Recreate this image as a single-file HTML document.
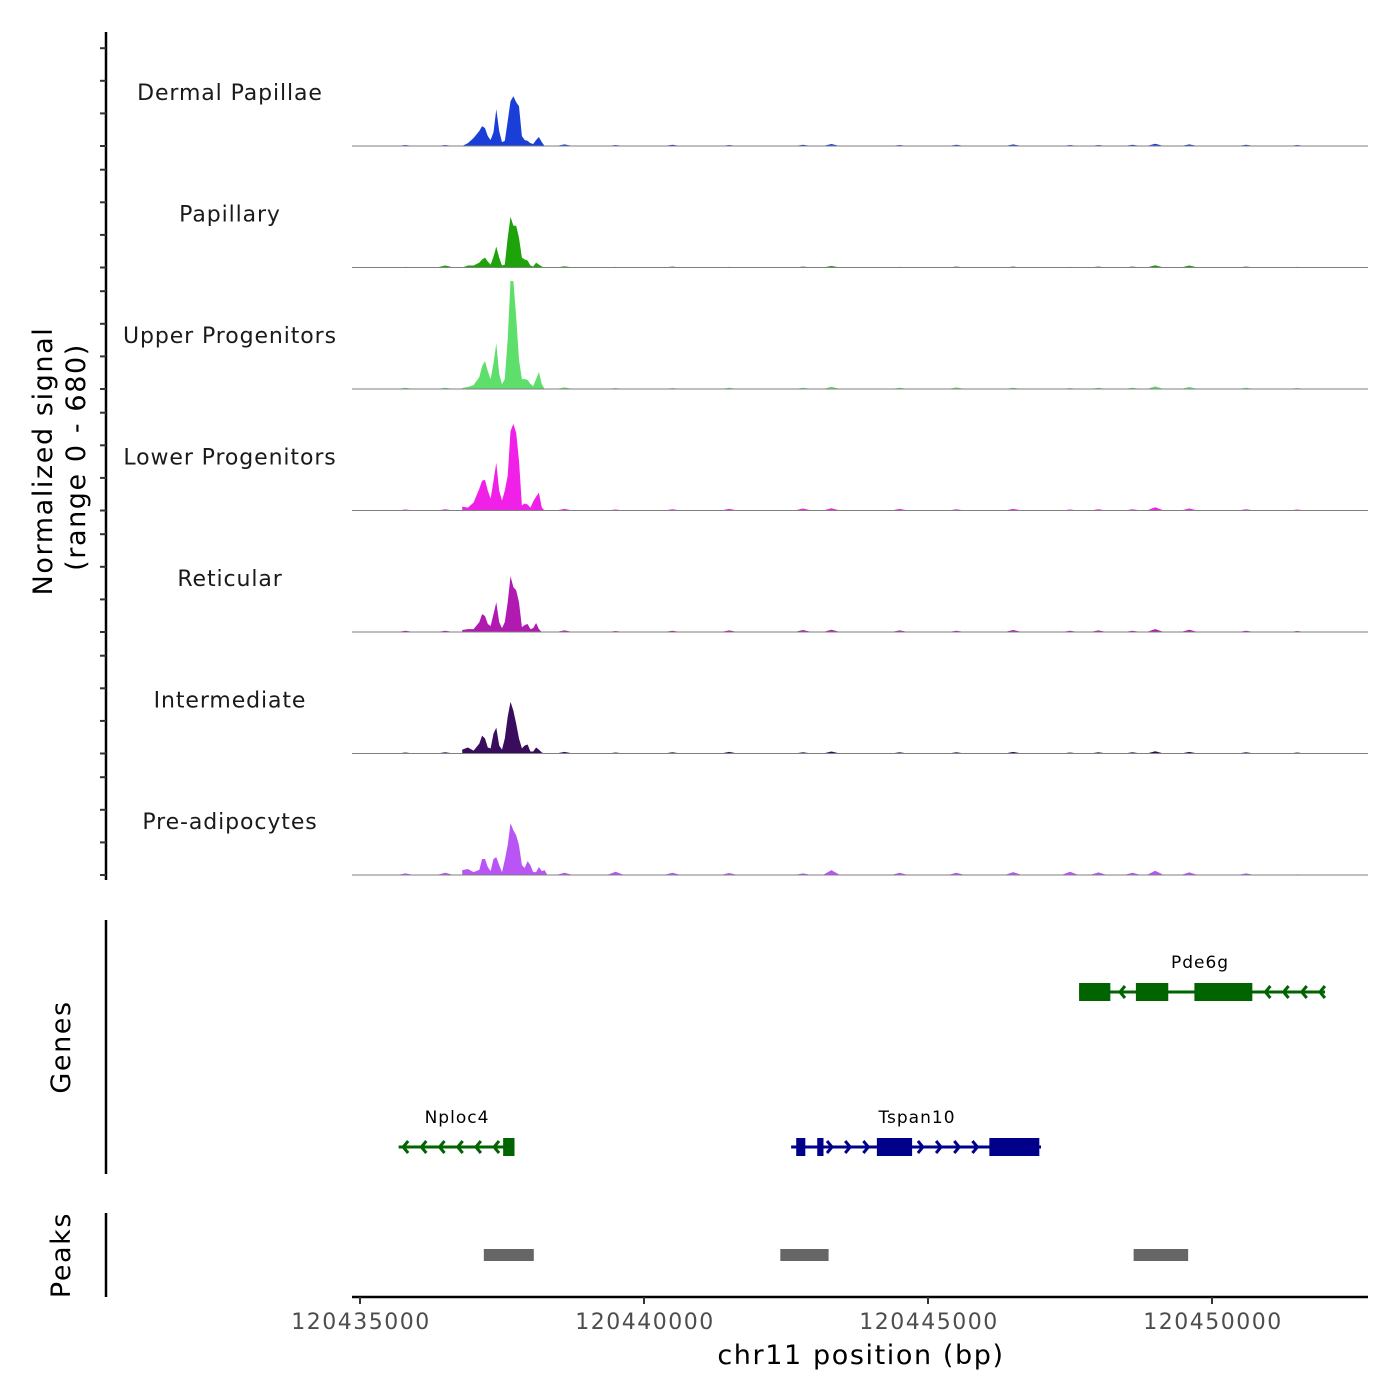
<!DOCTYPE html>
<html><head><meta charset="utf-8"><style>
html,body{margin:0;padding:0;background:#fff}
svg{display:block;font-family:"DejaVu Sans","Liberation Sans",sans-serif}
</style></head><body>
<svg id="chart" width="1400" height="1400" viewBox="0 0 1400 1400">
<g id="tracks"></g>
<g id="axes"></g>
<g id="genes"></g>
<g id="peaks"></g>
</svg>
<script>
// ---- data ----
const trackNames = ["Dermal Papillae","Papillary","Upper Progenitors","Lower Progenitors","Reticular","Intermediate","Pre-adipocytes"];
const trackColors = ["#1a3fd8","#1fa30a","#5ede6a","#f020e8","#b01ab0","#3a0c5e","#b955f5"];
const peakPos = [1800,1900,2000,2100,2150,2200,2250,2300,2350,2400,2450,2500,2550,2600,2650,2700,2750,2800,2850,2900,2950,3000,3050,3100,3150,3200,3250,3300];
const sigDermal = [0,18,49,92,122,110,61,37,85,226,92,24,31,153,275,305,268,244,61,37,31,18,12,37,55,24,0,0];
const sigPapillary = [0,12,12,30,49,61,37,18,67,128,61,12,18,183,311,256,256,183,61,49,43,12,6,30,18,6,0,0];
const sigUpper = [6,12,24,73,140,171,110,61,159,280,92,30,61,305,665,660,440,180,61,61,55,31,18,61,104,30,0,0];
const sigLower = [24,18,49,134,183,189,122,73,183,293,122,61,122,213,488,531,476,305,31,43,37,18,55,85,110,18,0,0];
const sigReticular = [12,18,18,61,110,98,49,37,110,183,61,24,61,183,342,275,256,183,30,43,49,18,24,55,18,0,0,0];
const sigIntermediate = [24,37,18,61,110,92,37,31,122,159,49,24,92,226,317,262,183,92,31,49,55,12,12,37,24,6,0,0];
const sigPreadip = [30,37,18,31,98,98,49,24,98,110,61,18,92,183,317,275,244,183,61,43,85,61,18,18,49,24,30,0];
const bgPos = [800,1500,3600,4500,5500,6500,7800,8300,9500,10500,11500,12500,13000,13600,14000,14600,15600,16500];
const bgDermal = [6,6,10,6,8,6,8,12,6,8,10,6,6,8,14,10,8,6];
const bgPapillary = [4,12,8,4,6,4,6,10,4,6,6,4,6,6,14,12,6,4];
const bgUpper = [8,8,10,6,6,8,8,14,8,10,8,6,8,8,16,12,8,6];
const bgLower = [6,8,10,6,8,10,12,14,10,8,10,6,8,8,20,12,8,6];
const bgReticular = [8,8,10,6,8,10,12,14,10,8,12,8,10,8,18,14,8,6];
const bgIntermediate = [6,8,10,6,8,10,8,12,8,8,10,6,8,8,14,10,8,6];
const bgPreadip = [10,14,14,20,14,12,10,30,14,14,18,20,16,14,26,16,10,4];
const signals = [sigDermal,sigPapillary,sigUpper,sigLower,sigReticular,sigIntermediate,sigPreadip];
const backgrounds = [bgDermal,bgPapillary,bgUpper,bgLower,bgReticular,bgIntermediate,bgPreadip];
const yTicks = [0,200,400,600];
const xTicks = [120435000,120440000,120445000,120450000];
const genesData = [
 {name:"Pde6g",strand:-1,start:12660,end:16990,row:0,color:"#006400",exons:[[12660,13210],[13660,14230],[14690,15710]]},
 {name:"Nploc4",strand:-1,start:680,end:2720,row:1,color:"#006400",exons:[[2520,2720]]},
 {name:"Tspan10",strand:1,start:7590,end:11990,row:1,color:"#00008b",exons:[[7680,7840],[8050,8160],[9100,9720],[11080,11960]]}
];
const peakRegions = [[2180,3060],[7400,8250],[13620,14580]];
// ---- scales ----
const X0=120435000, PXBP=0.0568, XL=360;
const xs = bp => XL + bp*PXBP;
const xAbs = v => XL + (v-X0)*PXBP;
const TRACK_H=121.5, BASE0=146, VSCALE=0.163;
const base = k => BASE0 + k*TRACK_H;
const ys = (k,v) => base(k) - v*VSCALE;
const NS="http://www.w3.org/2000/svg";
function mk(tag,attrs,parent,text){const e=document.createElementNS(NS,tag);for(const a in attrs)e.setAttribute(a,attrs[a]);if(text!==undefined)e.textContent=text;parent.appendChild(e);return e;}
const tracks=document.getElementById('tracks');
signals.forEach((sig,k)=>{
  const g=mk('g',{},tracks);
  
  
  const lab=mk('text',{x:230,y:base(k)-46,'text-anchor':'middle','font-size':22,'letter-spacing':0.9,fill:'#1a1a1a'},g,trackNames[k]);
  
  
  let d='M'+xs(peakPos[0])+','+base(k);
  sig.forEach((v,i)=>{d+=' L'+xs(peakPos[i]).toFixed(1)+','+ys(k,v).toFixed(1);});
  d+=' L'+xs(peakPos[peakPos.length-1])+','+base(k)+' Z';
  const p=mk('path',{d:d,fill:trackColors[k]},g);
  
  
  backgrounds[k].forEach((v,i)=>{
    const c=bgPos[i];
    const bd='M'+xs(c-150)+','+base(k)+' L'+xs(c)+','+ys(k,v)+' L'+xs(c+150)+','+base(k)+' Z';
    const b=mk('path',{d:bd,fill:trackColors[k]},g);
    
    
  });
  const bl=mk('line',{x1:352,x2:1368,y1:base(k),y2:base(k),stroke:'#7f7f7f','stroke-width':1},g);
  
  
});
const axes=document.getElementById('axes');
const ya=mk('line',{x1:106,x2:106,y1:32,y2:880,stroke:'#000','stroke-width':2.5},axes);


for(let k=0;k<7;k++){yTicks.forEach(t=>{
  const tl=mk('line',{x1:100,x2:106,y1:ys(k,t),y2:ys(k,t),stroke:'#333','stroke-width':2},axes);
  
  
});}
const yt=mk('text',{transform:'translate(52,461) rotate(-90)','text-anchor':'middle','font-size':27,'letter-spacing':1.6,fill:'#000'},axes,'Normalized signal');


const yt2=mk('text',{transform:'translate(85,457) rotate(-90)','text-anchor':'middle','font-size':27,'letter-spacing':1.6,fill:'#000'},axes,'(range 0 - 680)');


const ga=mk('line',{x1:106,x2:106,y1:920,y2:1174,stroke:'#000','stroke-width':2.5},axes);


const gt=mk('text',{transform:'translate(70,1047) rotate(-90)','text-anchor':'middle','font-size':27,'letter-spacing':1.6,fill:'#000'},axes,'Genes');


const pa=mk('line',{x1:106,x2:106,y1:1213,y2:1297,stroke:'#000','stroke-width':2.5},axes);


const pt=mk('text',{transform:'translate(70,1255) rotate(-90)','text-anchor':'middle','font-size':27,'letter-spacing':1.6,fill:'#000'},axes,'Peaks');


const xa=mk('line',{x1:352,x2:1368,y1:1297,y2:1297,stroke:'#000','stroke-width':2.5},axes);


xTicks.forEach(t=>{
  const tl=mk('line',{x1:xAbs(t),x2:xAbs(t),y1:1297,y2:1304,stroke:'#333','stroke-width':2},axes);
  
  
  const tx=mk('text',{x:xAbs(t)+1,y:1329,'text-anchor':'middle','font-size':22,'letter-spacing':1.5,fill:'#4d4d4d'},axes,String(t));
  
  
});
const xt=mk('text',{x:861,y:1364,'text-anchor':'middle','font-size':27,'letter-spacing':1.6,fill:'#000'},axes,'chr11 position (bp)');


// genes
const gg=document.getElementById('genes');
const rowY=[992,1147];
genesData.forEach(gd=>{
  const g=mk('g',{},gg);
  
  
  const y=rowY[gd.row];
  const x1=xs(gd.start), x2=xs(gd.end);
  mk('line',{x1:x1,x2:x2,y1:y,y2:y,stroke:gd.color,'stroke-width':3},g);
  gd.exons.forEach(e=>{
    const r=mk('rect',{x:xs(e[0]),y:y-9,width:xs(e[1])-xs(e[0]),height:18,fill:gd.color},g);
    
    
  });
  for(let bp=gd.start+80; bp<gd.end; bp+=320){
    const inEx=gd.exons.some(e=>bp>e[0]-120&&bp<e[1]+120);
    if(inEx) continue;
    const ax=xs(bp), s=gd.strand;
    mk('polyline',{points:(ax-5*s)+','+(y-6)+' '+ax+','+y+' '+(ax-5*s)+','+(y+6),fill:'none',stroke:gd.color,'stroke-width':3},g);
  }
  const lab=mk('text',{x:(x1+x2)/2,y:rowY[gd.row]-24,'text-anchor':'middle','font-size':17,'letter-spacing':1,fill:'#000'},g,gd.name);
  if(gd.name==='Pde6g') lab.setAttribute('x',1200);
  if(gd.name==='Nploc4') lab.setAttribute('x',457);
  if(gd.name==='Tspan10') lab.setAttribute('x',917);
  
  
});
const pg=document.getElementById('peaks');
peakRegions.forEach(p=>{
  const r=mk('rect',{x:xs(p[0]),y:1249,width:xs(p[1])-xs(p[0]),height:12,fill:'#666'},pg);
  
  
});
</script>
</body></html>
